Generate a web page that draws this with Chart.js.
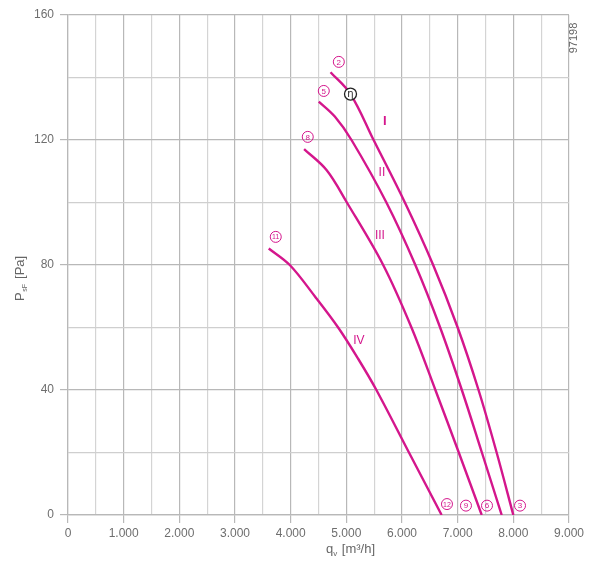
<!DOCTYPE html>
<html>
<head>
<meta charset="utf-8">
<script src="https://cdn.jsdelivr.net/npm/chart.js@4.4.1/dist/chart.umd.min.js"></script>
<style>
  html, body { margin: 0; padding: 0; background: #fff; }
  #wrap { width: 589px; height: 566px; position: relative; }
</style>
</head>
<body>
<div id="wrap"><canvas id="fanChart"></canvas></div>
<script>
// curve data, q [m3/h] vs pressure [Pa]
const curveI_q   = [4716, 5075, 5490, 6052, 6560, 7000, 7375, 7700, 8000];
const curveI_p   = [141.7, 134.7, 120, 100, 80, 60, 40, 20, 0];
const curveII_q  = [4505, 4793, 5093, 5720, 6240, 6685, 7075, 7435, 7791];
const curveII_p  = [132.3, 127.5, 120, 100, 80, 60, 40, 20, 0];
const curveIII_q = [4241, 4644, 5010, 5662, 6170, 6600, 7020, 7432];
const curveIII_p = [117.1, 110.4, 100, 80, 60, 40, 20, 0];
const curveIV_q  = [3606, 3984, 4433, 4853, 5212, 5540, 6125, 6712];
const curveIV_p  = [85.3, 80, 70, 60, 50, 40, 20, 0];

const xTicks = [0, 1000, 2000, 3000, 4000, 5000, 6000, 7000, 8000, 9000];
const yTicks = [0, 40, 80, 120, 160];

// curve labels (data coords)
const romanLabels = ['I', 'II', 'III', 'IV'];
const romanQ = [5692, 5639, 5603, 5225];
const romanP = [126.1, 109.4, 89.3, 55.7];

const pointNums = ['2', '5', '8', '11', '3', '6', '9', '12'];
const pointQ = [4865, 4595, 4307, 3732, 8120, 7527, 7149, 6808];
const pointP = [145.0, 135.7, 121.0, 89.0, 3.0, 3.0, 3.0, 3.5];

const etaQ = 5075, etaP = 134.7;

const MAGENTA = '#d4168c';
const FONT = '"Liberation Sans", Arial, sans-serif';

function toXY(qs, ps) {
  return qs.map((q, i) => ({ x: q, y: ps[i] }));
}

function fmtThousand(v) {
  if (v === 0) return '0';
  return (v / 1000) + '.000';
}

const labelPlugin = {
  id: 'labels',
  afterDatasetsDraw(chart) {
    const ctx = chart.ctx;
    const xs = chart.scales.x, ys = chart.scales.y;
    ctx.save();

    // roman numerals
    ctx.fillStyle = MAGENTA;
    ctx.textAlign = 'center';
    ctx.textBaseline = 'middle';
    romanLabels.forEach((t, i) => {
      ctx.font = (i === 0 ? 'bold 13px ' : '12px ') + FONT;
      ctx.fillText(t, xs.getPixelForValue(romanQ[i]), ys.getPixelForValue(romanP[i]));
    });

    // circled point numbers
    ctx.strokeStyle = MAGENTA;
    ctx.lineWidth = 1;
    pointNums.forEach((t, i) => {
      const px = xs.getPixelForValue(pointQ[i]);
      const py = ys.getPixelForValue(pointP[i]);
      ctx.beginPath();
      ctx.arc(px, py, 5.5, 0, Math.PI * 2);
      ctx.stroke();
      ctx.font = (t.length > 1 ? '7px ' : '8px ') + FONT;
      ctx.fillText(t, px, py + 0.5);
    });

    // eta operating point
    const ex = xs.getPixelForValue(etaQ), ey = ys.getPixelForValue(etaP);
    ctx.beginPath();
    ctx.arc(ex, ey, 6, 0, Math.PI * 2);
    ctx.fillStyle = '#fff';
    ctx.fill();
    ctx.strokeStyle = '#222';
    ctx.lineWidth = 1.3;
    ctx.stroke();
    ctx.fillStyle = '#222';
    ctx.font = '10px "DejaVu Sans", sans-serif';
    ctx.fillText('η', ex, ey);

    // figure id at top right
    ctx.save();
    ctx.translate(chart.chartArea.right + 5, chart.chartArea.top + 23);
    ctx.rotate(-Math.PI / 2);
    ctx.fillStyle = '#666';
    ctx.font = '11px ' + FONT;
    ctx.fillText('97198', 0, 0);
    ctx.restore();

    // axis titles with subscripts
    ctx.fillStyle = '#666';
    ctx.textAlign = 'left';
    ctx.textBaseline = 'alphabetic';
    let x0 = 326, y0 = 553;
    ctx.font = '13px ' + FONT;
    ctx.fillText('q', x0, y0);
    let w = ctx.measureText('q').width;
    ctx.font = '8px ' + FONT;
    ctx.fillText('v', x0 + w, y0 + 3);
    let w2 = ctx.measureText('v').width;
    ctx.font = '13px ' + FONT;
    ctx.fillText(' [m³/h]', x0 + w + w2 + 1, y0);

    ctx.save();
    ctx.translate(24, 301);
    ctx.rotate(-Math.PI / 2);
    ctx.font = '13px ' + FONT;
    ctx.fillText('P', 0, 0);
    w = ctx.measureText('P').width;
    ctx.font = '7px ' + FONT;
    ctx.fillText('sF', w + 0.5, 3);
    w2 = ctx.measureText('sF').width;
    ctx.font = '13px ' + FONT;
    ctx.fillText(' [Pa]', w + w2 + 2, 0);
    ctx.restore();

    ctx.restore();
  }
};

function curve(qs, ps) {
  return {
    data: toXY(qs, ps),
    showLine: true,
    borderColor: MAGENTA,
    borderWidth: 2.4,
    pointRadius: 0,
    fill: false,
    tension: 0.35
  };
}

const ctx = document.getElementById('fanChart').getContext('2d');
const chart = new Chart(ctx, {
  type: 'scatter',
  data: {
    datasets: [
      curve(curveI_q, curveI_p),
      curve(curveII_q, curveII_p),
      curve(curveIII_q, curveIII_p),
      curve(curveIV_q, curveIV_p)
    ]
  },
  options: {
    responsive: true,
    maintainAspectRatio: false,
    animation: false,
    layout: { padding: { top: 15, right: 20, left: 0, bottom: 0 } },
    plugins: {
      legend: { display: false },
      tooltip: { enabled: false }
    },
    scales: {
      x: {
        type: 'linear',
        min: 0,
        max: 9000,
        afterFit: s => { s.height = 51; },
        afterBuildTicks: s => {
          const t = [];
          for (let v = 0; v <= 9000; v += 500) t.push({ value: v });
          s.ticks = t;
        },
        ticks: {
          color: '#6e6e6e',
          font: { family: FONT, size: 12 },
          padding: 3,
          maxRotation: 0,
          autoSkip: false,
          callback: v => (xTicks.includes(v) ? fmtThousand(v) : '')
        },
        grid: {
          color: c => (c.tick && c.tick.value % 1000 === 0 ? '#b8b8b8' : '#d4d4d4'),
          tickColor: c => (c.tick && c.tick.value % 1000 === 0 ? '#b8b8b8' : 'rgba(0,0,0,0)'),
          tickLength: 8,
          lineWidth: 1.2
        },
        border: { color: '#b8b8b8', width: 1.2 }
      },
      y: {
        type: 'linear',
        min: 0,
        max: 160,
        afterFit: s => { s.width = 68; },
        afterBuildTicks: s => {
          const t = [];
          for (let v = 0; v <= 160; v += 20) t.push({ value: v });
          s.ticks = t;
        },
        ticks: {
          color: '#6e6e6e',
          font: { family: FONT, size: 12 },
          padding: 6,
          autoSkip: false,
          callback: v => (yTicks.includes(v) ? String(v) : '')
        },
        grid: {
          color: c => (c.tick && c.tick.value % 40 === 0 ? '#b8b8b8' : '#cfcfcf'),
          tickColor: c => (c.tick && c.tick.value % 40 === 0 ? '#b8b8b8' : 'rgba(0,0,0,0)'),
          tickLength: 8,
          lineWidth: 1.2
        },
        border: { color: '#b8b8b8', width: 1.2 }
      }
    }
  },
  plugins: [labelPlugin]
});
</script>
</body>
</html>
